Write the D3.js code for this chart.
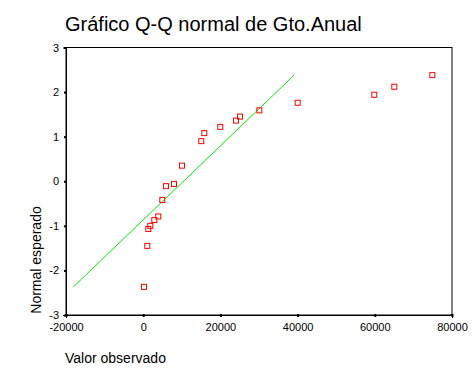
<!DOCTYPE html>
<html>
<head>
<meta charset="utf-8">
<script src="https://cdn.jsdelivr.net/npm/d3@7"></script>
<style>
  body { margin: 0; background: #fff; }
  svg text { font-family: "Liberation Sans", Arial, sans-serif; fill: #000; }
</style>
</head>
<body>
<div id="chart"></div>
<script>
// observed values (Gto.Anual) and their expected normal scores
const observed = [200, 1060, 1320, 1840, 2880, 3900, 4950, 5900, 7980, 10050,
  15050, 15830, 19970, 24040, 25080, 30080, 40020, 59870, 65050, 74900];
const expected = [-2.37, -1.45, -1.07, -1.00, -0.87, -0.79, -0.42, -0.11, -0.06, 0.35,
  0.90, 1.08, 1.22, 1.36, 1.45, 1.59, 1.76, 1.94, 2.12, 2.38];
// reference line endpoints (mean + sd * z)
const refLineX = [-18100, 39100];
const refLineY = [-2.37, 2.38];
const xTicks = [-20000, 0, 20000, 40000, 60000, 80000];
const yTicks = [-3, -2, -1, 0, 1, 2, 3];

const width = 472, height = 377;
const margin = { top: 47.5, right: 20, bottom: 62, left: 66 };

const svg = d3.select('#chart')
  .append('svg')
  .attr('width', width)
  .attr('height', height);

const x = d3.scaleLinear().domain([-20000, 80000]).range([margin.left, width - margin.right]);
const y = d3.scaleLinear().domain([-3, 3]).range([height - margin.bottom, margin.top]);

// title
svg.append('text')
  .attr('x', 65)
  .attr('y', 31)
  .attr('font-size', 20)
  .text('Gráfico Q-Q normal de Gto.Anual');

// frame
svg.append('rect')
  .attr('x', x(-20000))
  .attr('y', y(3))
  .attr('width', x(80000) - x(-20000))
  .attr('height', y(-3) - y(3))
  .attr('fill', 'none')
  .attr('stroke', '#000')
  .attr('stroke-width', 1);

// axes (plain hyphen for negatives, like the original)
const fmt = d => String(d);
const xAxis = d3.axisBottom(x).tickValues(xTicks).tickSize(3).tickFormat(fmt);
const yAxis = d3.axisLeft(y).tickValues(yTicks).tickSize(3).tickFormat(fmt);

const gx = svg.append('g')
  .attr('transform', `translate(0,${y(-3)})`)
  .call(xAxis);
gx.select('.domain').attr('stroke', '#000');
gx.selectAll('.tick line').attr('stroke', '#000').attr('stroke-width', 2).attr('y1', -1).attr('y2', 2);
gx.selectAll('.tick text').attr('font-size', 11).attr('dy', '0.95em')
  .attr('font-family', '"Liberation Sans", Arial, sans-serif');

const gy = svg.append('g')
  .attr('transform', `translate(${x(-20000)},0)`)
  .call(yAxis);
gy.select('.domain').attr('stroke', '#000');
gy.selectAll('.tick line').attr('stroke', '#000').attr('stroke-width', 2).attr('x1', 1).attr('x2', -2);
gy.selectAll('.tick text').attr('font-size', 11).attr('x', -7)
  .attr('font-family', '"Liberation Sans", Arial, sans-serif');

// reference line
svg.append('line')
  .attr('x1', x(refLineX[0]))
  .attr('y1', y(refLineY[0]))
  .attr('x2', x(refLineX[1]))
  .attr('y2', y(refLineY[1]))
  .attr('stroke', '#00ee00')
  .attr('stroke-width', 1);

// points
const pts = observed.map((v, i) => ({ v, z: expected[i] }));
svg.selectAll('.pt')
  .data(pts)
  .enter()
  .append('rect')
  .attr('class', 'pt')
  .attr('x', d => x(d.v) - 2.5)
  .attr('y', d => y(d.z) - 2.5)
  .attr('width', 5)
  .attr('height', 5)
  .attr('fill', 'none')
  .attr('stroke', '#ff0000')
  .attr('stroke-width', 1);

// axis titles
svg.append('text')
  .attr('transform', `translate(41,260) rotate(-90)`)
  .attr('text-anchor', 'middle')
  .attr('font-size', 14)
  .text('Normal esperado');

svg.append('text')
  .attr('x', 65)
  .attr('y', 363)
  .attr('font-size', 14)
  .text('Valor observado');
</script>
</body>
</html>
